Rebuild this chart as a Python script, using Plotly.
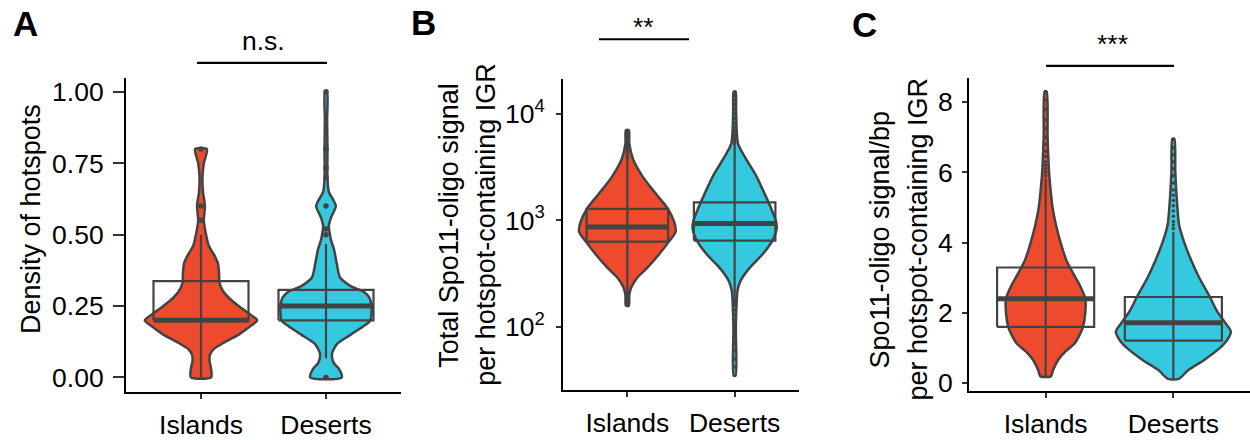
import plotly.graph_objects as go

W, H = 1250, 440
RED = "#EE4A2D"
CYAN = "#35C9DF"
DARK = "#434343"
FONT = "Liberation Sans, Arial, sans-serif"

categories = ["Islands", "Deserts"]
fill_colors = [RED, CYAN]

# ---------------- Panel A : density of hotspots ----------------
a_isl_v = [0, .03, .06, .08, .10, .12, .15, .18, .20, .22, .25, .28, .30, .33, .37, .40, .43, .46, .50, .55, .60, .65, .70, .75, .80]
a_isl_d = [.18, .18, .15, .16, .23, .39, .67, .88, 1.0, .88, .67, .49, .40, .33, .32, .30, .23, .14, .09, .05, .07, .035, .026, .05, .105]
a_des_v = [0, .03, .05, .08, .10, .12, .15, .18, .20, .25, .28, .30, .32, .35, .40, .45, .48, .50, .53, .56, .60, .63, .65, .70, .80, .90, 1.0]
a_des_d = [.28, .23, .14, .105, .14, .21, .44, .67, .79, .81, .77, .67, .44, .25, .19, .14, .09, .07, .05, .09, .175, .105, .05, .026, .026, .02, .018]
a_q1 = [0.20, 0.20]
a_med = [0.20, 0.25]
a_q3 = [0.337, 0.307]
a_lo = [0.0, 0.067]
a_hi = [0.50, 0.467]
a_out = [[0.55, 0.60, 0.80], [0.0, 0.50, 0.52, 0.60, 0.70, 0.733, 0.80, 1.0]]

# ---------------- Panel B : total Spo11-oligo signal ----------------
b_isl_v = [158, 200, 234, 288, 358, 475, 631, 782, 966, 1282, 1820, 2600, 3715, 5250, 7000]
b_isl_d = [.03, .04, .08, .2, .41, .65, .86, 1.0, .97, .84, .57, .31, .12, .04, .03]
b_des_v = [35, 100, 219, 269, 358, 475, 631, 832, 966, 1282, 1820, 2600, 3715, 5250, 10700, 16100]
b_des_d = [.02, .025, .06, .12, .31, .57, .77, .87, .86, .76, .61, .45, .245, .07, .03, .02]
b_q1 = [631, 645]
b_med = [867, 932]
b_q3 = [1282, 1475]
b_lo = [218, 187]
b_hi = [3715, 5090]
b_out = [[160, 168, 175, 183, 190, 198, 205, 212, 3800, 4000, 4250, 4500, 4750, 5000, 5300, 5600, 6000, 6300, 6700, 7000],
         [35, 42, 50, 60, 70, 80, 90, 100, 115, 130, 145, 160, 170, 180,
          5200, 5500, 5800, 6100, 6500, 7000, 7500, 8200, 9000, 10000, 11000, 12200, 13500, 14800, 16000]]

# ---------------- Panel C : Spo11-oligo signal per bp ----------------
c_isl_v = [.19, .37, .65, .9, 1.12, 1.4, 1.6, 2.0, 2.4, 2.8, 3.0, 3.3, 3.5, 4.0, 4.5, 5.0, 5.5, 6.0, 7.0, 8.3]
c_isl_d = [.09, .13, .215, .345, .5, .6, .65, .69, .69, .59, .52, .42, .36, .26, .18, .12, .086, .06, .034, .017]
c_des_v = [.12, .37, .65, 1.0, 1.21, 1.47, 1.72, 2.05, 2.5, 3.0, 3.5, 4.0, 4.5, 5.0, 6.0, 6.95]
c_des_d = [.095, .26, .53, .81, .93, 1.0, .9, .76, .62, .45, .31, .19, .10, .07, .034, .017]
c_q1 = [1.60, 1.21]
c_med = [2.40, 1.72]
c_q3 = [3.29, 2.45]
c_lo = [0.19, 0.12]
c_hi = [5.83, 4.31]
c_out = [[5.9, 6.0, 6.1, 6.2, 6.3, 6.45, 6.6, 6.8, 7.0, 7.25, 7.5, 7.8, 8.05, 8.3],
         [4.4, 4.5, 4.6, 4.75, 4.9, 5.05, 5.2, 5.35, 5.5, 5.7, 5.9, 6.1, 6.3, 6.5, 6.7, 6.95]]

y_titles = [["Density of hotspots"],
            ["Total Spo11-oligo signal", "per hotspot-containing IGR"],
            ["Spo11-oligo signal/bp", "per hotspot-containing IGR"]]
panel_letters = ["A", "B", "C"]
sig_labels = ["n.s.", "**", "***"]

VIOLIN_HALF = 0.45
BOX_HALF = 0.38

panels = [
    dict(prof=[(a_isl_v, a_isl_d), (a_des_v, a_des_d)], q1=a_q1, med=a_med, q3=a_q3, lo=a_lo, hi=a_hi, out=a_out, osize=5.5),
    dict(prof=[(b_isl_v, b_isl_d), (b_des_v, b_des_d)], q1=b_q1, med=b_med, q3=b_q3, lo=b_lo, hi=b_hi, out=b_out, osize=3.5),
    dict(prof=[(c_isl_v, c_isl_d), (c_des_v, c_des_d)], q1=c_q1, med=c_med, q3=c_q3, lo=c_lo, hi=c_hi, out=c_out, osize=3.5),
]

fig = go.Figure()
for p, panel in enumerate(panels):
    xa = "x" if p == 0 else f"x{p+1}"
    ya = "y" if p == 0 else f"y{p+1}"
    for i, (vals, dens) in enumerate(panel["prof"]):
        pos = i + 1
        xs = [pos + VIOLIN_HALF * d for d in dens] + [pos - VIOLIN_HALF * d for d in dens[::-1]]
        ys = list(vals) + list(vals[::-1])
        xs.append(xs[0]); ys.append(ys[0])
        fig.add_trace(go.Scatter(x=xs, y=ys, xaxis=xa, yaxis=ya, mode="lines", fill="toself",
                                 fillcolor=fill_colors[i], line=dict(color=DARK, width=2.5, shape="spline", smoothing=0.7),
                                 hoverinfo="skip"))
    for i in range(2):
        pos = i + 1
        fig.add_trace(go.Scatter(x=[pos, pos], y=[panel["lo"][i], panel["hi"][i]], xaxis=xa, yaxis=ya,
                                 mode="lines", line=dict(color=DARK, width=2.2), hoverinfo="skip"))
        q1, q3 = panel["q1"][i], panel["q3"][i]
        fig.add_trace(go.Scatter(x=[pos - BOX_HALF, pos + BOX_HALF, pos + BOX_HALF, pos - BOX_HALF, pos - BOX_HALF],
                                 y=[q1, q1, q3, q3, q1], xaxis=xa, yaxis=ya, mode="lines",
                                 line=dict(color=DARK, width=2.2), hoverinfo="skip"))
        fig.add_trace(go.Scatter(x=[pos - BOX_HALF, pos + BOX_HALF], y=[panel["med"][i]] * 2, xaxis=xa, yaxis=ya,
                                 mode="lines", line=dict(color=DARK, width=5), hoverinfo="skip"))
        fig.add_trace(go.Scatter(x=[pos] * len(panel["out"][i]), y=panel["out"][i], xaxis=xa, yaxis=ya,
                                 mode="markers", marker=dict(color=DARK, size=panel["osize"]), hoverinfo="skip"))

x_dom_px = [(126, 401), (563, 799), (969, 1250)]
y_dom_px = [(79, 399), (80, 397), (79, 398)]
y_ticklen = [11, 5, 5]
y_standoff = [4, 6, 4]

y_specs = [
    dict(range=[-0.05, 1.05], tickvals=[0, .25, .5, .75, 1], ticktext=["0.00", "0.25", "0.50", "0.75", "1.00"]),
    dict(type="log", range=[1.41, 4.33], tickvals=[100, 1000, 10000],
         ticktext=["10<sup>2</sup>", "10<sup>3</sup>", "10<sup>4</sup>"]),
    dict(range=[-0.22, 8.70], tickvals=[0, 2, 4, 6, 8], ticktext=["0", "2", "4", "6", "8"]),
]

layout = dict(width=W, height=H, margin=dict(l=0, r=0, t=0, b=0), showlegend=False,
              plot_bgcolor="white", paper_bgcolor="white", font=dict(family=FONT, color="black"))
for p in range(3):
    sx = "xaxis" if p == 0 else f"xaxis{p+1}"
    sy = "yaxis" if p == 0 else f"yaxis{p+1}"
    ya = "y" if p == 0 else f"y{p+1}"
    xa = "x" if p == 0 else f"x{p+1}"
    x0, x1 = x_dom_px[p]
    y0, y1 = y_dom_px[p]
    layout[sx] = dict(domain=[x0 / W, min(1.0, x1 / W)], range=[0.4, 2.6], anchor=ya,
                      tickvals=[1, 2], ticktext=categories, showline=True, linecolor="black", linewidth=2,
                      ticks="outside", ticklen=5, tickwidth=2, tickcolor="#333333", ticklabelstandoff=3,
                      tickfont=dict(size=26.5, family=FONT, color="black"),
                      showgrid=False, zeroline=False, fixedrange=True)
    ys = dict(domain=[1 - y1 / H, 1 - y0 / H], anchor=xa, showline=True, linecolor="black", linewidth=2,
              ticks="outside", ticklen=y_ticklen[p], tickwidth=2, tickcolor="#333333",
              ticklabelstandoff=y_standoff[p],
              tickfont=dict(size=26.5, family=FONT, color="black"),
              showgrid=False, zeroline=False, fixedrange=True)
    ys.update(y_specs[p])
    layout[sy] = ys

def px(x, y):
    return x / W, 1 - y / H

annotations = []
for letter, (lx, ly) in zip(panel_letters, [(25, 24), (423, 23), (864, 25)]):
    ax, ay = px(lx, ly)
    annotations.append(dict(text=f"<b>{letter}</b>", x=ax, y=ay, xref="paper", yref="paper",
                            xanchor="center", yanchor="middle", showarrow=False,
                            font=dict(size=35, family=FONT, color="black")))
title_pos = [[(31, 223)], [(449, 230), (486, 229)], [(880, 244), (918, 244)]]
for lines, poss in zip(y_titles, title_pos):
    for t, (tx, ty) in zip(lines, poss):
        ax, ay = px(tx, ty)
        annotations.append(dict(text=t, x=ax, y=ay, xref="paper", yref="paper", textangle=-90,
                                xanchor="center", yanchor="middle", showarrow=False,
                                font=dict(size=27, family=FONT, color="black")))
sig_text_pos = [(263, 42), (643, 28), (1112, 45)]
sig_bar_px = [(197, 327, 64), (599, 689, 40), (1046, 1174, 67)]
shapes = []
for lab, (tx, ty), (bx0, bx1, by) in zip(sig_labels, sig_text_pos, sig_bar_px):
    ax, ay = px(tx, ty)
    annotations.append(dict(text=lab, x=ax, y=ay, xref="paper", yref="paper",
                            xanchor="center", yanchor="middle", showarrow=False,
                            font=dict(size=26.5, family=FONT, color="black")))
    sx0, sy0 = px(bx0, by)
    sx1, _ = px(bx1, by)
    shapes.append(dict(type="line", xref="paper", yref="paper", x0=sx0, x1=sx1, y0=sy0, y1=sy0,
                       line=dict(color="black", width=2.2)))
layout["annotations"] = annotations
layout["shapes"] = shapes

fig.update_layout(**layout)
fig.write_html("out.html", config={"displayModeBar": False},
               post_script="document.body.style.margin='0';document.body.style.overflow='hidden';")
